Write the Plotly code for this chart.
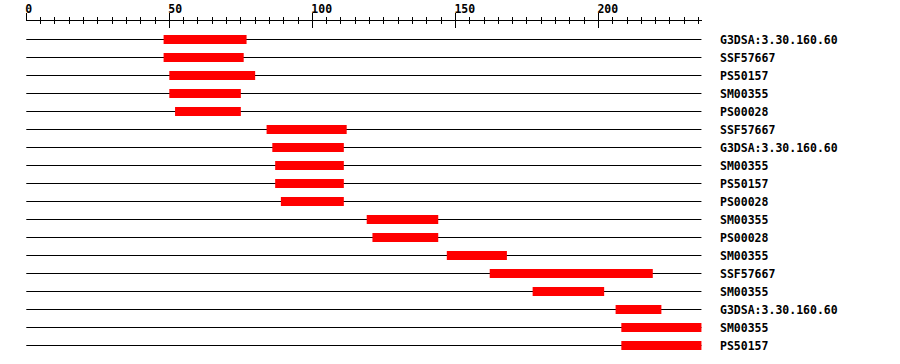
import plotly.graph_objects as go

seq_length = 236
labels = ["G3DSA:3.30.160.60", "SSF57667", "PS50157", "SM00355", "PS00028",
          "SSF57667", "G3DSA:3.30.160.60", "SM00355", "PS50157", "PS00028",
          "SM00355", "PS00028", "SM00355", "SSF57667", "SM00355",
          "G3DSA:3.30.160.60", "SM00355", "PS50157"]
starts = [48, 48, 50, 50, 52, 84, 86, 87, 87, 89, 119, 121, 147, 162, 177, 206, 208, 208]
ends = [77, 76, 80, 75, 75, 112, 111, 111, 111, 111, 144, 144, 168, 219, 202, 222, 236, 236]
rows = list(range(len(labels)))

FONT = "DejaVu Sans Mono"
ROW_PX = 18
TOP = 21
BOTTOM = 10
H = 364

fig = go.Figure()

# baseline for each row (thin black bar, 1px)
fig.add_trace(go.Bar(y=rows, x=[seq_length] * len(rows), base=[0] * len(rows),
                     orientation="h", width=1.0 / ROW_PX,
                     marker=dict(color="black", line=dict(width=0)),
                     showlegend=False, hoverinfo="skip"))

# domain bars
fig.add_trace(go.Bar(y=rows, x=[e - s for s, e in zip(starts, ends)], base=starts,
                     orientation="h", width=9.0 / ROW_PX,
                     marker=dict(color="#ff0000", line=dict(width=0)),
                     showlegend=False, hoverinfo="skip"))

# invisible trace for the mirrored axis (ticks crossing the axis line)
fig.add_trace(go.Scatter(x=[0], y=[0], xaxis="x2", mode="markers",
                         marker=dict(opacity=0), showlegend=False, hoverinfo="skip"))

y_top = -1 - 0.5 / ROW_PX
y_bot = y_top + (H - TOP - BOTTOM) / ROW_PX

fig.update_layout(
    width=900, height=H,
    margin=dict(l=26, r=198, t=TOP, b=BOTTOM, autoexpand=False),
    paper_bgcolor="white", plot_bgcolor="white",
    barmode="overlay",
    xaxis=dict(range=[-0.1, seq_length + 0.2], side="top", showgrid=False, zeroline=False,
               showline=True, linecolor="black", linewidth=1, automargin=False,
               ticks="outside", ticklen=7, tickwidth=1, tickcolor="black",
               tick0=0, dtick=50, ticklabelposition="outside right",
               ticklabelstandoff=2, ticklabelshift=-2,
               tickfont=dict(family=FONT, size=11.5, color="black", weight="bold"),
               minor=dict(dtick=5, ticks="outside", ticklen=3, tickwidth=1, tickcolor="black"),
               fixedrange=True),
    xaxis2=dict(overlaying="x", matches="x", side="top", anchor="y", automargin=False,
                showgrid=False, zeroline=False, showline=False,
                ticks="inside", ticklen=7, tickwidth=1, tickcolor="black",
                tick0=0, dtick=50, showticklabels=False,
                minor=dict(dtick=5, ticks="inside", ticklen=3, tickwidth=1, tickcolor="black")),
    yaxis=dict(range=[y_bot, y_top], side="right", showgrid=False, zeroline=False,
               showline=False, ticks="", tickvals=rows, ticktext=labels,
               ticklabelstandoff=17, automargin=False,
               tickfont=dict(family=FONT, size=11.5, color="black", weight="bold"),
               fixedrange=True),
)

fig.write_html("out.html")
